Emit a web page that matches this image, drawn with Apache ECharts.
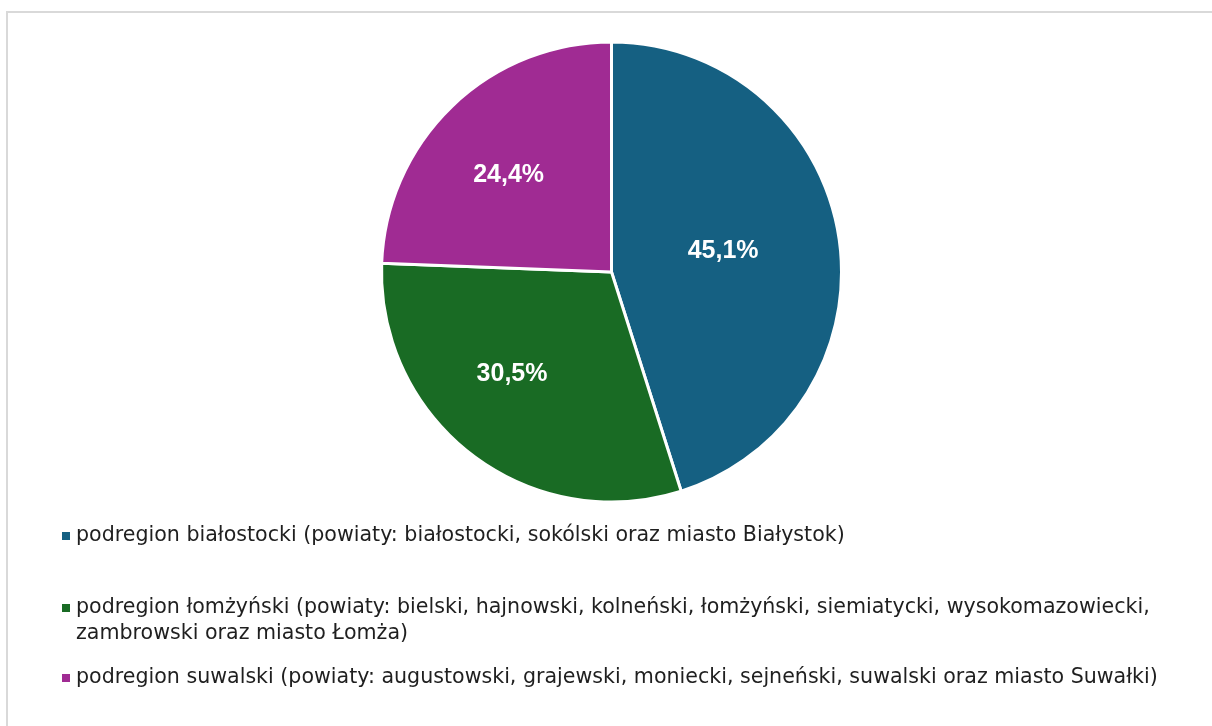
<!DOCTYPE html>
<html lang="pl">
<head>
<meta charset="utf-8">
<title>Podregiony województwa podlaskiego</title>
<script src="https://cdn.jsdelivr.net/npm/echarts@6/dist/echarts.min.js"></script>
<style>
  html, body { margin: 0; padding: 0; background: #ffffff; }
  #chart { width: 1212px; height: 726px; }
</style>
</head>
<body>
<div id="chart"></div>
<script>
// Udział podregionów (%)
const categories = [
  'podregion białostocki (powiaty: białostocki, sokólski oraz miasto Białystok)',
  'podregion łomżyński (powiaty: bielski, hajnowski, kolneński, łomżyński, siemiatycki, wysokomazowiecki, zambrowski oraz miasto Łomża)',
  'podregion suwalski (powiaty: augustowski, grajewski, moniecki, sejneński, suwalski oraz miasto Suwałki)'
];
const shares = [45.1, 30.5, 24.4];
const colors = ['#156082', '#196B24', '#A02B93'];

// Label nudges away from the default inside position
const labelOffsets = [[-5, -3], [-28, 8], [-21, -12]];
// Legend rows, top edge of each entry
const legendTops = [517, 589, 659];

const LEGEND_FONT_FAMILY = 'DejaVu Sans';
const LEGEND_FONT_SIZE = 20.6;
const LEGEND_LINE = 26;
const LEGEND_WRAP = 1120;

const fmt = v => v.toFixed(1).replace('.', ',') + '%';

// Word-wrap a legend entry so that no line is wider than LEGEND_WRAP
const measureCtx = document.createElement('canvas').getContext('2d');
measureCtx.font = LEGEND_FONT_SIZE + 'px "' + LEGEND_FONT_FAMILY + '"';
function wrapText(text) {
  const words = text.split(' ');
  const lines = [];
  let line = '';
  words.forEach(w => {
    const trial = line ? line + ' ' + w : w;
    if (line && measureCtx.measureText(trial).width > LEGEND_WRAP) {
      lines.push(line);
      line = w;
    } else {
      line = trial;
    }
  });
  if (line) lines.push(line);
  return lines;
}
const wrapped = categories.map(wrapText);

// Square marker drawn level with the first text line of the entry
const markerFor = lines => {
  const h = lines * LEGEND_LINE;
  return 'path://M0,0 M0,8 L10,8 L10,18 L0,18 Z M10,' + h;
};

const chart = echarts.init(document.getElementById('chart'), null, { renderer: 'canvas' });

chart.setOption({
  animation: false,
  backgroundColor: '#ffffff',
  graphic: [{
    type: 'rect',
    shape: { x: 7, y: 12, width: 1220, height: 730 },
    style: { fill: 'none', stroke: '#d9d9d9', lineWidth: 2 },
    silent: true
  }],
  legend: categories.map((name, i) => ({
    data: [name],
    orient: 'vertical',
    left: 55,
    top: legendTops[i],
    icon: markerFor(wrapped[i].length),
    itemWidth: 10,
    itemHeight: wrapped[i].length * LEGEND_LINE,
    selectedMode: false,
    formatter: () => wrapped[i].join('\n'),
    textStyle: {
      fontFamily: LEGEND_FONT_FAMILY,
      fontSize: LEGEND_FONT_SIZE,
      color: '#1f1f1f',
      lineHeight: LEGEND_LINE
    }
  })),
  series: [{
    type: 'pie',
    center: [611.5, 272],
    radius: 230,
    startAngle: 90,
    clockwise: true,
    avoidLabelOverlap: false,
    itemStyle: { borderColor: '#ffffff', borderWidth: 3 },
    label: {
      show: true,
      position: 'inside',
      color: '#ffffff',
      fontFamily: '"Liberation Sans", Arial, sans-serif',
      fontWeight: 'bold',
      fontSize: 25,
      formatter: p => fmt(p.value)
    },
    labelLine: { show: false },
    emphasis: { disabled: true },
    data: categories.map((name, i) => ({
      name: name,
      value: shares[i],
      itemStyle: { color: colors[i] },
      label: { offset: labelOffsets[i] }
    }))
  }]
});
</script>
</body>
</html>
